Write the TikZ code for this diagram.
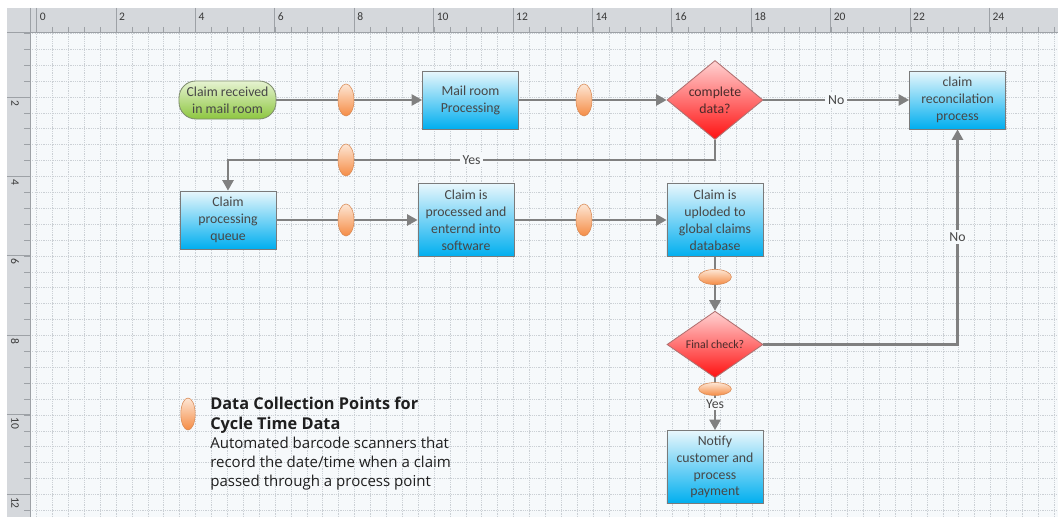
\documentclass[tikz,border=0pt]{standalone}
\usepackage{fontspec}
\setmainfont{Carlito}
\newfontfamily\keyfont{Open Sans}
\usetikzlibrary{shapes.geometric,arrows.meta}
\definecolor{canvas}{HTML}{F6F9FB}
\definecolor{gridline}{HTML}{CBD0D5}
\definecolor{ruler}{HTML}{D5D8DC}
\definecolor{rulerline}{HTML}{9DA1A6}
\definecolor{rulertxt}{HTML}{3A3A3A}
\definecolor{conn}{HTML}{808080}
\definecolor{edge}{HTML}{7A7A7A}
\definecolor{txt}{HTML}{474747}
\definecolor{boxtop}{HTML}{E8F7FC}
\definecolor{boxbot}{HTML}{00AEEF}
\definecolor{redtop}{HTML}{FFD3D3}
\definecolor{redbot}{HTML}{FF1010}
\definecolor{rededge}{HTML}{B07070}
\definecolor{redtxt}{HTML}{4A2A2A}
\definecolor{greentop}{HTML}{E6F3D2}
\definecolor{greenbot}{HTML}{8DC63F}
\definecolor{greenedge}{HTML}{7E8C6E}
\definecolor{dcptop}{HTML}{FDE6D4}
\definecolor{dcpbot}{HTML}{F58C45}
\definecolor{dcpedge}{HTML}{D98A55}
\begin{document}
\begin{tikzpicture}[x=0.025cm,y=-0.025cm,
    flow/.style={draw=conn,line width=1.5pt,-{Triangle[length=7.5pt,width=8pt]}},
    process/.style={draw=edge,line width=0.6pt,top color=boxtop,bottom color=boxbot,
      minimum width=2.4cm,minimum height=1.45cm,inner sep=1pt,align=center,
      text=txt,font=\fontsize{9.8}{12}\selectfont},
    tall/.style={minimum height=1.825cm},
    decision/.style={diamond,draw=rededge,line width=0.6pt,top color=redtop,bottom color=redbot,
      minimum width=2.4cm,minimum height=1.45cm,inner sep=0pt,align=center,
      text=redtxt,font=\fontsize{9.8}{12}\selectfont},
    terminal/.style={draw=greenedge,line width=0.6pt,rounded corners=12pt,
      top color=greentop,bottom color=greenbot,minimum width=2.425cm,minimum height=0.95cm,
      inner sep=1pt,align=center,text=txt,font=\fontsize{9.8}{12}\selectfont},
    dcp/.style={ellipse,draw=dcpedge,line width=0.4pt,top color=dcptop,bottom color=dcpbot,
      minimum width=0.4cm,minimum height=0.8cm,inner sep=0pt},
    dcpflat/.style={dcp,minimum width=0.82cm,minimum height=0.38cm},
    gap/.style={fill=canvas,inner sep=2pt,text=txt,font=\fontsize{9.8}{12}\selectfont},
    rulerlabel/.style={inner sep=0pt,text=rulertxt,font=\fontsize{8.2}{9}\selectfont},
    gridrule/.style={gridline,line width=0.4pt,dash pattern=on 0.8pt off 0.8pt}]

    \useasboundingbox (0,0) rectangle (1058,517);
    \fill [white] (0,0) rectangle (1058,517);
    \fill [canvas] (30,32) rectangle (1058,517);
    \foreach \i in {0,...,64}
        \draw [gridrule] (36.5+15.9*\i,32) -- (36.5+15.9*\i,517);
    \foreach \j in {1,...,31}
        \draw [gridrule] (30,17.4+15.9*\j) -- (1058,17.4+15.9*\j);

    \fill [ruler] (7,8) rectangle (1058,32);
    \fill [ruler] (7,8) rectangle (30,517);
    \draw [rulerline,line width=0.6pt] (30,32) -- (1058,32);
    \draw [rulerline,line width=0.6pt] (30,32) -- (30,517);
    \draw [rulerline,line width=0.6pt] (7,32) -- (30,32) (30,8) -- (30,32);
    \foreach \i in {1,...,64}
        \draw [rulerline,line width=0.4pt] (36.5+15.9*\i,27) -- (36.5+15.9*\i,32);
    \foreach \j in {1,...,31}
        \draw [rulerline,line width=0.4pt] (24,17.4+15.9*\j) -- (30,17.4+15.9*\j);
    \foreach \n in {0,2,...,24} {
        \draw [rulerline,line width=0.4pt] (36.5+39.7*\n,8) -- (36.5+39.7*\n,32);
        \path (39.5+39.7*\n,17) node [rulerlabel,anchor=west] {\n};
    }
    \foreach \n in {2,4,...,12} {
        \draw [rulerline,line width=0.4pt] (7,17.4+39.7*\n) -- (30,17.4+39.7*\n);
        \path (15,20.4+39.7*\n) node [rulerlabel,rotate=-90,anchor=west] {\n};
    }

    \path (227.5,100) node [terminal] (recv) {Claim received\\in mail room};
    \path (470.5,100) node [process] (mail) {Mail room\\Processing};
    \path (715,100) node [decision] (complete) {complete\\data?};
    \path (957.5,100) node [process] (recon) {claim\\reconcilation\\process};
    \path (228,220) node [process] (queue) {Claim\\processing\\queue};
    \path (466,220) node [process,tall] (entered) {Claim is\\processed and\\enternd into\\software};
    \path (715,220) node [process,tall] (upload) {Claim is\\uploded to\\global claims\\database};
    \path (715,344.5) node [decision,font=\fontsize{8.4}{10}\selectfont] (final) {Final check?};
    \path (715,467) node [process,tall] (notify) {Notify\\customer and\\process\\payment};
    \coordinate (yesbend) at (228,160);

    \draw [flow] (recv) -- (mail);
    \draw [flow] (mail) -- (complete);
    \draw [flow] (complete) -- (recon) node [midway,gap] {No};
    \draw [flow] (complete.south) |- (yesbend) node [pos=0.75,gap] {Yes} -- (queue);
    \draw [flow] (queue) -- (entered);
    \draw [flow] (entered) -- (upload);
    \draw [flow] (upload) -- (final);
    \draw [flow] (final) -| (recon) node [pos=0.75,gap] {No};
    \draw [flow] (final) -- (notify) node [midway,gap,inner sep=1pt] {Yes};

    \path (346,100) node [dcp] (dcp1) {};
    \path (584,100) node [dcp] (dcp2) {};
    \path (346,160) node [dcp] (dcp3) {};
    \path (346,220) node [dcp] (dcp4) {};
    \path (584,220) node [dcp] (dcp5) {};
    \path (715,277) node [dcpflat] (dcp6) {};
    \path (715,389) node [dcpflat,minimum height=0.32cm] (dcp7) {};

    \path (188,414) node [dcp,minimum width=0.36cm] (key) {};
    \path (210,397) node [anchor=north west,inner sep=0pt,align=left,text=black!88,
        font=\keyfont\fontsize{10.7}{13.7}\selectfont] (keytext)
        {{\bfseries\fontsize{11.6}{13.7}\selectfont Data Collection Points for}\\
         {\bfseries\fontsize{11.6}{13.7}\selectfont Cycle Time Data}\\
         Automated barcode scanners that\\record the date/time when a claim\\
         passed through a process point};
\end{tikzpicture}
\end{document}
